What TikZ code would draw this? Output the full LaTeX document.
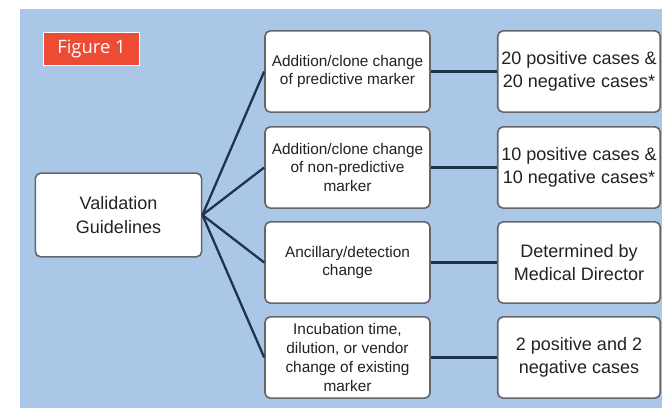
\documentclass[tikz,border=0pt]{standalone}
\usepackage{fontspec}
\setmainfont{Liberation Sans}
\newfontfamily\figfont{Open Sans}
\usepackage{xcolor}
\usetikzlibrary{positioning}

\definecolor{bgblue}{RGB}{170,199,231}
\definecolor{boxgray}{RGB}{100,102,106}
\definecolor{linknavy}{RGB}{29,52,74}
\definecolor{txtgray}{RGB}{34,34,34}
\definecolor{figred}{RGB}{238,75,53}

\begin{document}
\begin{tikzpicture}[x=0.04cm, y=-0.04cm,
    card/.style={draw=boxgray, line width=1.8pt, fill=white, rounded corners=6pt,
        align=center, text=txtgray, inner sep=1pt},
    change/.style={card, minimum width=6.6cm, minimum height=3.25cm,
        font=\fontsize{17.5}{21.5}\selectfont},
    result/.style={card, minimum width=6.5cm, minimum height=3.25cm,
        font=\fontsize{20.5}{26}\selectfont},
    link/.style={draw=linknavy, line width=2.6pt}]
    % Background
    \fill[white] (0,0) rectangle (662,408);
    \fill[bgblue] (20,9) rectangle (662,408);
    \useasboundingbox (0,0) rectangle (662,408);

    % Figure label
    \node[fill=figred, draw=white, line width=1.5pt, text=white, minimum width=3.85cm,
        minimum height=1.3cm, font=\figfont\fontsize{21}{24}\selectfont] (fig) at (91.5,49) {Figure 1};

    % Root
    \node[card, minimum width=6.65cm, minimum height=3.35cm,
        font=\fontsize{20.5}{28}\selectfont] (valid) at (118.5,215) {Validation\\Guidelines};

    % Kinds of change
    \node[change] (pred) at (347.5,71.5) {Addition/clone change\\of predictive marker};
    \node[change] (nonpred) at (347.5,167.5) {Addition/clone change\\of non-predictive\\marker};
    \node[change] (ancil) at (347.5,262.5) {Ancillary/detection\\change};
    \node[change] (incub) at (347.5,357.5) {Incubation time,\\dilution, or vendor\\change of existing\\marker};

    % Required cases
    \node[result] (res1) at (579,71.5) {20 positive cases \&\\20 negative cases*};
    \node[result] (res2) at (579,167.5) {10 positive cases \&\\10 negative cases*};
    \node[result] (res3) at (579,262.5) {Determined by\\Medical Director};
    \node[result] (res4) at (579,357.5) {2 positive and 2\\negative cases};

    % Links
    \foreach \b/\r in {pred/res1, nonpred/res2, ancil/res3, incub/res4} {
        \draw[link] (valid.east) -- (\b.west);
        \draw[link] (\b.east) -- (\r.west);
    }
\end{tikzpicture}
\end{document}
